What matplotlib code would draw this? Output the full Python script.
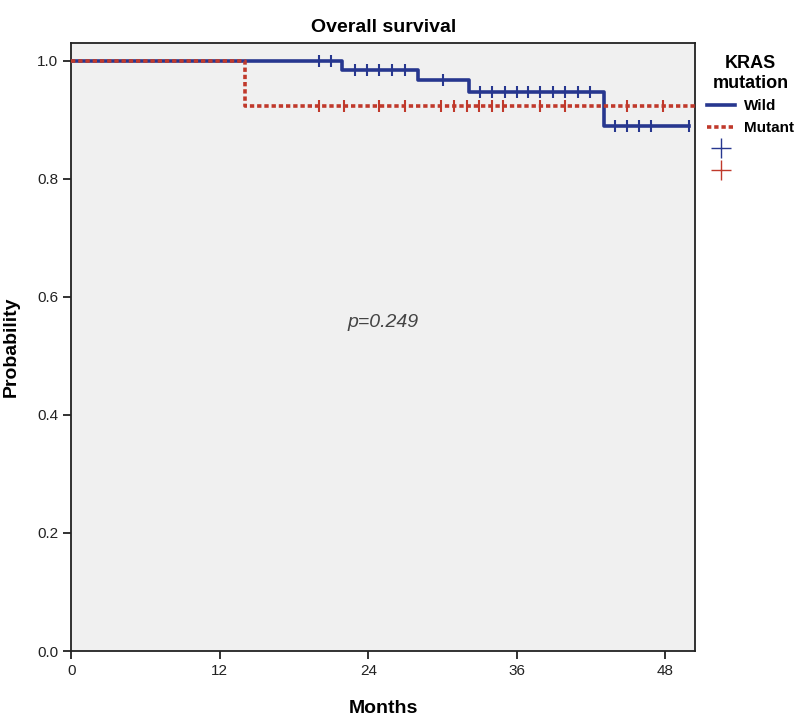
import matplotlib.pyplot as plt
from matplotlib.lines import Line2D

plt.rcParams['font.family'] = ['Liberation Sans', 'DejaVu Sans']

# step curves (time in months, survival probability)
wild_times = [0, 21.9, 28.0, 32.1, 43.0, 49.9]
wild_surv = [1.0, 0.985, 0.967, 0.947, 0.889, 0.889]
wild_censor = [20.0, 21.0, 22.9, 23.9, 24.9, 25.9, 27.0, 30.0, 33.0, 34.0, 35.0,
               36.0, 36.9, 37.9, 38.9, 39.9, 40.9, 41.9, 43.9, 44.9, 45.9, 46.8, 49.9]

mut_times = [0, 14.0, 50.4]
mut_surv = [1.0, 0.923, 0.923]
mut_censor = [20.0, 22.0, 24.9, 27.0, 29.9, 30.9, 32.0, 32.9, 34.0, 34.9,
              37.9, 39.9, 44.9, 47.8]

x_ticks = [0, 12, 24, 36, 48]
y_ticks = [0.0, 0.2, 0.4, 0.6, 0.8, 1.0]

blue = '#27378f'
red = '#c0392b'


def surv_at(times, surv, t):
    s = surv[0]
    for tt, ss in zip(times, surv):
        if tt <= t:
            s = ss
    return s


fig = plt.figure(figsize=(8, 7.17), dpi=100)
ax = fig.add_axes([0.089, 0.092, 0.78, 0.848])
ax.set_facecolor('#f0f0f0')

ax.plot(wild_times, wild_surv, drawstyle='steps-post', color=blue, lw=2.6, zorder=3)
ax.plot(mut_times, mut_surv, drawstyle='steps-post', color=red, lw=2.6,
        linestyle=(0, (1.2, 0.8)), zorder=4)

ax.plot(wild_censor, [surv_at(wild_times, wild_surv, t) for t in wild_censor],
        linestyle='none', marker='|', color=blue, markersize=9, mew=1.5, zorder=3)
ax.plot(mut_censor, [surv_at(mut_times, mut_surv, t) for t in mut_censor],
        linestyle='none', marker='|', color=red, markersize=9, mew=1.5, zorder=4)

ax.set_xlim(0, 50.4)
ax.set_ylim(0, 1.03)
ax.set_xticks(x_ticks)
ax.set_yticks(y_ticks)
ax.set_yticklabels([f'{v:.1f}' for v in y_ticks])
ax.tick_params(labelsize=11, length=6, width=1.3, colors='#222222')
for side in ['left', 'bottom', 'top', 'right']:
    ax.spines[side].set_linewidth(1.3)
    ax.spines[side].set_color('#222222')

ax.set_title('Overall survival', fontsize=14, fontweight='bold', pad=8)
ax.set_xlabel('Months', fontsize=14, fontweight='bold', labelpad=16)
ax.set_ylabel('Probability', fontsize=14, fontweight='bold', labelpad=12)

ax.text(25.2, 0.557, 'p=0.249', fontsize=14, style='italic', color='#444444',
        ha='center', va='center')

handles = [
    Line2D([], [], color=blue, lw=2.6),
    Line2D([], [], color=red, lw=2.6, linestyle=(0, (1.2, 0.8))),
    Line2D([], [], color=blue, marker='+', markersize=14, linestyle='none'),
    Line2D([], [], color=red, marker='+', markersize=14, linestyle='none'),
]
leg = ax.legend(handles, ['Wild', 'Mutant', '', ''], title='KRAS\nmutation',
                loc='upper left', bbox_to_anchor=(1.0, 1.0), frameon=False,
                handlelength=1.8, handletextpad=0.6, borderaxespad=0.4,
                prop={'weight': 'bold', 'size': 11},
                title_fontproperties={'weight': 'bold', 'size': 13})
leg.get_title().set_multialignment('center')

fig.savefig('out.png', dpi=100)
